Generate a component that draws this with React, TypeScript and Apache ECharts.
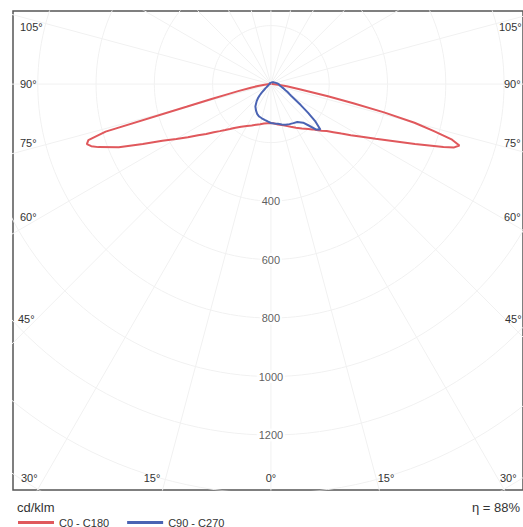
import React, { useEffect, useRef } from "react";
import * as echarts from "echarts";

// gamma angles (degrees from nadir) shared by all half-planes
const gammas = [0, 5, 10, 15, 20, 25, 30, 35, 40, 42.5, 45, 47.5, 50, 52.5, 55, 57.5, 60, 62.5, 65, 67.5, 70, 71, 72, 73, 74, 75, 76, 77, 78, 80, 82, 85, 90, 100, 120, 150, 180];

// luminous intensity, cd/klm
const c0 = [133, 135, 140, 145, 152, 161, 172, 185, 200, 210, 222, 236, 250, 270, 295, 325, 360, 405, 460, 535, 630, 665, 680, 650, 580, 510, 400, 290, 200, 100, 55, 25, 6, 2, 0, 0, 0];
const c180 = [133, 134, 137, 142, 148, 156, 165, 178, 196, 208, 222, 238, 256, 280, 305, 338, 375, 420, 485, 565, 630, 652, 664, 655, 590, 300, 210, 148, 115, 70, 45, 22, 5, 2, 0, 0, 0];
const c90 = [133, 135, 138, 143, 148, 151, 154, 158, 172, 192, 220, 230, 200, 160, 125, 98, 80, 70, 62, 54, 48, 46, 44, 42, 40, 38, 37, 36, 35, 32, 30, 29, 27, 20, 12, 7, 5];
const c270 = [133, 128, 124, 121, 118, 112, 103, 93, 76, 66, 55, 42, 30, 24, 18, 15, 12, 11, 10, 9, 8, 8, 8, 7, 7, 7, 7, 6, 6, 6, 6, 5, 5, 5, 5, 5, 5];

const ringValues = [200, 400, 600, 800, 1000, 1200, 1400, 1600];
const ringLabels = [400, 600, 800, 1000, 1200];
const spokeAngles = [0, 15, 30, 45, 60, 75, 90, 105, 120, 135, 150, 165, 180, 195, 210, 225, 240, 255, 270, 285, 300, 315, 330, 345];

const seriesNames = ["C0 - C180", "C90 - C270"];
const seriesColors = ["#e0585c", "#4a63b3"];

const rad = (d: number) => (d * Math.PI) / 180;
const pt = (g: number, v: number, side: number) => [side * v * Math.sin(rad(g)), -v * Math.cos(rad(g))];

const halfPair = (left: number[], right: number[]) => {
  const out: number[][] = [];
  for (let i = gammas.length - 1; i >= 0; i--) out.push(pt(gammas[i], left[i], -1));
  for (let i = 0; i < gammas.length; i++) out.push(pt(gammas[i], right[i], 1));
  return out;
};

const FONT = "'Liberation Sans', Arial, sans-serif";
const GRID_COLOR = "#f1f1f1";

export default function App() {
  const ref = useRef<HTMLDivElement>(null);
  useEffect(() => {
    if (!ref.current) return;
    const chart = echarts.init(ref.current, undefined, { renderer: "svg" });

    const gridSeries: any[] = [];
    ringValues.forEach((r) => {
      const d: number[][] = [];
      for (let a = 0; a <= 360; a += 2) d.push(pt(a, r, 1));
      gridSeries.push({
        type: "line",
        data: d,
        showSymbol: false,
        silent: true,
        z: 1,
        lineStyle: { color: GRID_COLOR, width: 1 },
      });
    });
    spokeAngles.forEach((a) => {
      gridSeries.push({
        type: "line",
        data: [pt(a, 0, 1), pt(a, 2200, 1)],
        showSymbol: false,
        silent: true,
        z: 1,
        lineStyle: { color: GRID_COLOR, width: 1 },
      });
    });

    const angleLabels: any[] = [
      ["105°", 20, 27, "left"], ["90°", 20, 84, "left"], ["75°", 20, 143, "left"], ["60°", 20, 217, "left"], ["45°", 18, 319, "left"], ["30°", 21, 478, "left"],
      ["105°", 499, 27, "left"], ["90°", 504, 84, "left"], ["75°", 504, 143, "left"], ["60°", 504, 217, "left"], ["45°", 505, 319, "left"], ["30°", 500, 478, "left"],
      ["15°", 152, 478, "center"], ["0°", 271, 478, "center"], ["15°", 386, 478, "center"],
    ];

    chart.setOption({
      animation: false,
      backgroundColor: "#fff",
      grid: {
        left: 13,
        right: -2,
        top: 11,
        bottom: 37,
        show: true,
        borderColor: "#555",
        borderWidth: 1.5,
        backgroundColor: "#fff",
      },
      xAxis: { type: "value", min: -885, max: 865, show: false },
      yAxis: { type: "value", min: -1388, max: 250, show: false },
      legend: {
        data: seriesNames,
        left: 13,
        top: 512,
        icon: "rect",
        itemWidth: 36,
        itemHeight: 3,
        itemGap: 18,
        textStyle: { fontSize: 11, color: "#333", fontFamily: FONT },
      },
      series: [
        ...gridSeries,
        {
          name: seriesNames[0],
          type: "line",
          data: halfPair(c180, c0),
          showSymbol: false,
          z: 3,
          color: seriesColors[0],
          lineStyle: { color: seriesColors[0], width: 2 },
        },
        {
          name: seriesNames[1],
          type: "line",
          data: halfPair(c270, c90),
          showSymbol: false,
          z: 4,
          color: seriesColors[1],
          lineStyle: { color: seriesColors[1], width: 2 },
        },
        {
          type: "scatter",
          data: ringLabels.map((v) => [0, -v]),
          symbolSize: 0,
          silent: true,
          z: 5,
          itemStyle: { color: "#333" },
          label: {
            show: true,
            position: [0, 0],
            align: "center",
            verticalAlign: "middle",
            formatter: (p: any) => String(-p.value[1]),
            fontSize: 11,
            color: "#333",
            fontFamily: FONT,
            backgroundColor: "#fff",
            padding: [1, 2],
          },
        },
      ],
      graphic: [
        ...angleLabels.map(([t, x, y, al]) => ({
          type: "text",
          x,
          y,
          z: 10,
          style: { text: t, fill: "#333", font: `11px ${FONT}`, textAlign: al, textVerticalAlign: "middle" },
        })),
        {
          type: "text",
          x: 17,
          y: 507,
          style: { text: "cd/klm", fill: "#333", font: `13px ${FONT}`, textAlign: "left", textVerticalAlign: "middle" },
        },
        {
          type: "text",
          x: 520,
          y: 507,
          style: { text: "η = 88%", fill: "#333", font: `13px ${FONT}`, textAlign: "right", textVerticalAlign: "middle" },
        },
      ],
    });
    return () => chart.dispose();
  }, []);
  return <div ref={ref} style={{ position: "absolute", left: 0, top: 0, width: 523, height: 527 }} />;
}
